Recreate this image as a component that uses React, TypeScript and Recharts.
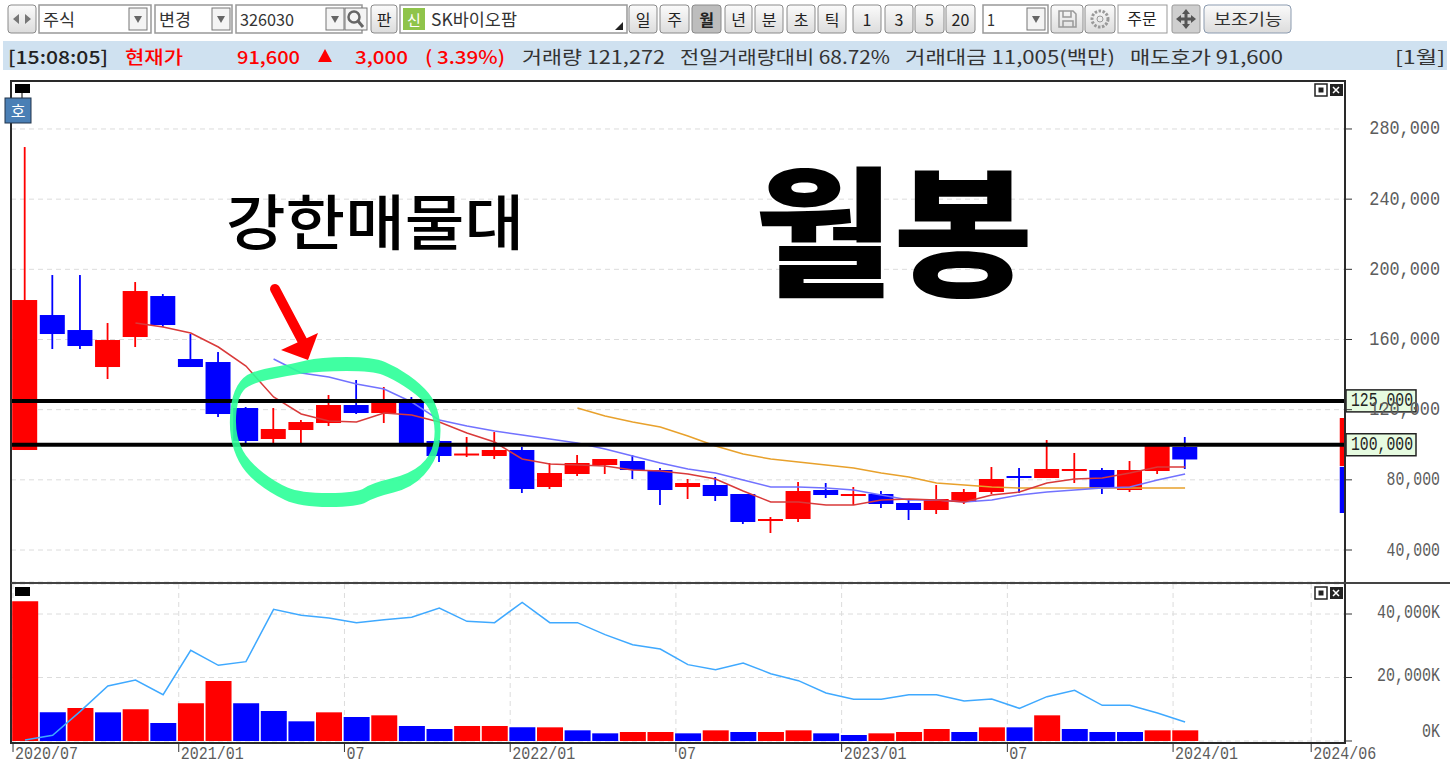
import {
  Bar,
  CartesianGrid,
  Cell,
  ComposedChart,
  Line,
  ReferenceArea,
  ReferenceLine,
  XAxis,
  YAxis,
} from "recharts";

// month index of each bar, 0 = 2020/07
const months = Array.from({ length: 43 }, (_, i) => i);

const open = [
  97000, 173950, 165400, 144310, 161410, 184780, 148870, 147160, 120940, 103270, 108400,
  112390, 122650, 118090, 124360, 102130, 94150, 93580, 97000, 75910, 83320, 88450, 90730,
  85600, 75910, 77050, 71920, 56530, 57670, 74200, 71350, 71920, 66790, 62800, 67360, 73060,
  82180, 81040, 85030, 85600, 74200, 85030, 98710,
];
const close = [
  182500, 163120, 156280, 159700, 187630, 168250, 144310, 117520, 102130, 108970, 112960,
  122650, 118090, 124360, 100420, 93580, 95000, 97000, 74770, 83890, 89590, 91870, 85600,
  74200, 78190, 70780, 55960, 57670, 73630, 71350, 71920, 66220, 62800, 69070, 73060, 80470,
  81040, 86170, 86170, 75340, 85600, 99850, 91600,
];
const high = [
  269710, 196750, 196750, 169390, 192760, 185920, 163120, 152860, 121510, 120940, 114100,
  128350, 136900, 132910, 127210, 102700, 104410, 107260, 98710, 89590, 94150, 91870, 94150,
  86740, 80470, 81610, 71920, 58810, 78760, 78190, 75910, 73630, 68500, 77050, 74770, 87310,
  86740, 102700, 95290, 86740, 90730, 99850, 104410,
];
const low = [
  97000, 154570, 154570, 137470, 155710, 167110, 144310, 115810, 100990, 100990, 100990,
  110680, 117520, 112390, 99850, 90160, 93010, 91870, 72490, 74770, 82180, 83320, 80470,
  65650, 69070, 67930, 54820, 49690, 55960, 69640, 65650, 63940, 57100, 60520, 66220, 71920,
  72490, 81040, 78190, 71920, 73060, 83320, 86170,
];

const maShort = [
  null, null, null, null, 169390, 167110, 163690, 155710, 144880, 127210, 117520, 113530,
  112960, 118090, 116950, 112960, 106690, 101560, 91870, 89020, 88450, 87880, 85600, 85030,
  83320, 80470, 73630, 67360, 67360, 65650, 65650, 68500, 69070, 68500, 67360, 71350, 73060,
  78190, 80470, 81040, 83890, 87310, 87310,
];
const maMid = [
  null, null, null, null, null, null, null, null, null, 148870, 140890, 138610, 134620,
  131770, 124360, 114100, 110680, 107830, 105550, 103270, 100990, 97570, 93580, 89590, 86170,
  83890, 79900, 75910, 75910, 75340, 74200, 71350, 68500, 68500, 67360, 68500, 71350, 73060,
  74200, 75340, 75910, 79900, 83320,
];
const maLong = [
  null, null, null, null, null, null, null, null, null, null, null, null, null, null, null,
  null, null, null, null, null, 120940, 116380, 112960, 110110, 104980, 99280, 94720, 91870,
  90160, 88450, 86740, 83890, 81610, 78190, 77050, 75910, 75340, 75340, 75340, 75340, 75340,
  75340, 75340,
];

const volume = [
  44000, 9030, 10400, 9030, 9975, 5670, 11865, 18900, 11865, 9450, 6200, 9030, 7560, 8085,
  4725, 3780, 4725, 4725, 4305, 4305, 3360, 2415, 2835, 2835, 2415, 3360, 2835, 2835, 3360,
  2415, 1890, 2415, 2835, 3780, 2835, 4305, 4305, 8085, 3780, 2835, 2835, 3360, 3360,
];
const volumeUp = [
  1, 0, 1, 0, 1, 0, 1, 1, 0, 0, 0, 1, 0, 1, 0, 0, 1, 1, 0, 1, 0, 0, 1, 1, 0, 1, 0, 1, 1, 0,
  0, 1, 1, 1, 0, 1, 0, 1, 0, 0, 0, 1, 1,
];
const volumeMa = [
  315, 1785, 9345, 17325, 19215, 14595, 28560, 23835, 24990, 41475, 39585, 38745, 37275,
  38220, 38955, 41895, 37695, 37275, 43680, 37275, 37275, 33495, 30345, 28980, 24045, 22470,
  24570, 21210, 19005, 15120, 13125, 13125, 14595, 14595, 12600, 13230, 10290, 13965, 15960,
  11235, 11235, 8820, 5985,
];

const priceTicks = [40000, 80000, 120000, 160000, 200000, 240000, 280000];
const volumeTicks = [0, 20000, 40000];
const tickMonths = [0, 6, 12, 18, 24, 30, 36, 42, 47];
const tickLabels = ["2020/07", "2021/01", "07", "2022/01", "07", "2023/01", "07", "2024/01", "2024/06"];

const priceRows = months.map((m, i) => ({
  m,
  range: [low[i], high[i]],
  open: open[i],
  close: close[i],
  high: high[i],
  low: low[i],
  maShort: maShort[i],
  maMid: maMid[i],
  maLong: maLong[i],
}));
const volumeRows = months.map((m, i) => ({ m, volume: volume[i], volumeMa: volumeMa[i] }));

const RED = "#ff0000";
const BLUE = "#0000ff";
const MONO = "'Liberation Mono', monospace";
const KR = "'Noto Sans CJK KR', sans-serif";
const xDomain = [-0.507, 47.79];
const xTicks = tickMonths.map((m) => m - 0.434);

// hand-drawn marker ring on the picture, outer and inner edge
const ringOuter = [
  [229, 425], [232, 395], [243, 376], [262, 369], [292, 364], [320, 357], [373, 357], [397, 367],
  [421, 384], [436, 402], [442, 430], [436, 462], [412, 488], [375, 497], [358, 507], [300, 507],
  [270, 493], [245, 473], [233, 450],
];
const ringInner = [
  [235, 425], [238, 397], [249, 384], [285, 376], [320, 371], [373, 371], [393, 379],
  [416, 394], [430, 408], [436, 430], [431, 456], [410, 474], [372, 483], [357, 493], [300, 493],
  [275, 482], [252, 464], [240, 447],
];

function smoothLoop(pts: number[][]) {
  const mid = (a: number[], b: number[]) => `${(a[0] + b[0]) / 2} ${(a[1] + b[1]) / 2}`;
  let d = `M${mid(pts[pts.length - 1], pts[0])}`;
  pts.forEach((p, i) => {
    d += ` Q${p[0]} ${p[1]} ${mid(p, pts[(i + 1) % pts.length])}`;
  });
  return d + " Z";
}

function Candle(props: any) {
  const { x, y, width, height, payload } = props;
  const { open: o, close: c, high: h, low: l } = payload;
  const k = height / Math.max(h - l, 1);
  const yOf = (v: number) => y + (h - v) * k;
  const color = c >= o ? RED : BLUE;
  const top = yOf(Math.max(o, c));
  const bottom = yOf(Math.min(o, c));
  const mid = x + width / 2;
  return (
    <g>
      <rect x={mid - 0.9} y={y} width={1.8} height={height} fill={color} />
      <rect x={mid - 12.5} y={top} width={25} height={Math.max(bottom - top, 2)} fill={color} />
    </g>
  );
}

function AxisNumber({ x, y, text, perChar = 9 }: { x: number; y: number; text: string; perChar?: number }) {
  return (
    <text
      x={x}
      y={y}
      textAnchor="end"
      fontFamily={MONO}
      fontSize={20}
      fill="#5c5c5c"
      textLength={text.length * perChar}
      lengthAdjust="spacingAndGlyphs"
      dominantBaseline="central"
    >
      {text}
    </text>
  );
}

function PriceTick({ y, payload }: any) {
  const text = payload.value.toLocaleString("en-US");
  return <AxisNumber x={1440} y={y} text={text} perChar={text.length > 6 ? 10.1 : 8.9} />;
}

function VolumeTick({ y, payload }: any) {
  const v = payload.value;
  const text = v.toLocaleString("en-US") + "K";
  return <AxisNumber x={1440} y={v === 0 ? y - 9 : y - 2} text={text} />;
}

function MonthTick({ x, index }: any) {
  const text = tickLabels[index];
  return (
    <text
      x={x + 2}
      y={171}
      fontFamily={MONO}
      fontSize={19}
      fill="#5c5c5c"
      textLength={text.length * 9}
      lengthAdjust="spacingAndGlyphs"
      dominantBaseline="central"
    >
      {text}
    </text>
  );
}

function PriceTag({ viewBox, text }: any) {
  const left = viewBox.x + viewBox.width + 1;
  return (
    <g>
      <rect x={left} y={viewBox.y - 11} width={70} height={22} fill="#e6fbe0" stroke="#222" strokeWidth={1.5} />
      <text
        x={left + 67}
        y={viewBox.y}
        textAnchor="end"
        fontFamily={MONO}
        fontSize={20}
        fill="#222"
        textLength={62}
        lengthAdjust="spacingAndGlyphs"
        dominantBaseline="central"
      >
        {text}
      </text>
    </g>
  );
}

function Txt({ x, y, w, size = 16, color = "#333", weight = 400, children }: any) {
  return (
    <text
      x={x}
      y={y}
      fontFamily={KR}
      fontSize={size}
      fontWeight={weight}
      fill={color}
      textLength={w}
      lengthAdjust="spacingAndGlyphs"
      dominantBaseline="central"
    >
      {children}
    </text>
  );
}

function Btn({ x, w, label, dark }: { x: number; w: number; label: string; dark?: boolean }) {
  return (
    <g>
      <rect x={x} y={5} width={w} height={28} rx={3} fill={dark ? "#bdbdbd" : "url(#btn)"} stroke="#8a8a8a" />
      <text
        x={x + w / 2}
        y={19}
        textAnchor="middle"
        dominantBaseline="central"
        fontFamily={KR}
        fontSize={16}
        fontWeight={dark ? 700 : 400}
        fill="#222"
      >
        {label}
      </text>
    </g>
  );
}

function Combo({ x, w, label, textW, arrowX }: { x: number; w: number; label: string; textW: number; arrowX?: number }) {
  return (
    <g>
      <rect x={x} y={5} width={w} height={28} fill="#fff" stroke="#999" strokeWidth={1.5} />
      <Txt x={x + 4} y={18} w={textW} size={17}>
        {label}
      </Txt>
      {arrowX !== undefined && (
        <g>
          <rect x={arrowX} y={8} width={18} height={22} fill="#f4f4f4" stroke="#777" />
          <path d={`M${arrowX + 5} 16 h8 l-4 7 z`} fill="#666" />
        </g>
      )}
    </g>
  );
}

function PanelIcons({ y }: { y: number }) {
  return (
    <g>
      <rect x={1315} y={y} width={12} height={12} fill="#fff" stroke="#222" strokeWidth={1.5} />
      <rect x={1318.5} y={y + 3.5} width={5} height={5} fill="#222" />
      <rect x={1330} y={y} width={13} height={12} fill="#222" />
      <path d={`M${1333} ${y + 3} l6 6 M${1339} ${y + 3} l-6 6`} stroke="#fff" strokeWidth={1.5} />
    </g>
  );
}

function Backdrop() {
  return (
    <svg width={1450} height={765} style={{ position: "absolute", left: 0, top: 0 }}>
      <defs>
        <linearGradient id="btn" x1="0" y1="0" x2="0" y2="1">
          <stop offset="0" stopColor="#fbfbfb" />
          <stop offset="1" stopColor="#dcdcdc" />
        </linearGradient>
      </defs>
      <Btn x={8} w={28} label="" />
      <path d="M19 14 l-6 5 l6 5 z M25 14 l6 5 l-6 5 z" fill="#777" />
      <Combo x={39} w={112} label="주식" textW={32} arrowX={129} />
      <Combo x={155} w={77} label="변경" textW={32} arrowX={212} />
      <Combo x={236} w={126} label="326030" textW={54} arrowX={326} />
      <rect x={345} y={8} width={22} height={22} fill="#f4f4f4" stroke="#777" />
      <circle cx={354} cy={17} r={5.5} fill="none" stroke="#666" strokeWidth={2.5} />
      <path d="M358 21 l5 6" stroke="#666" strokeWidth={3} />
      <Btn x={371} w={26} label="판" />
      <rect x={400} y={5} width={227} height={28} fill="#fff" stroke="#999" strokeWidth={1.5} />
      <rect x={403} y={8} width={22} height={22} fill="#8fc44a" />
      <text x={414} y={19} textAnchor="middle" dominantBaseline="central" fontFamily={KR} fontSize={15} fill="#fff">
        신
      </text>
      <Txt x={431} y={18} w={86} size={17}>
        SK바이오팜
      </Txt>
      <path d="M623 22 v8 h-8 z" fill="#222" />
      <Btn x={629} w={28} label="일" />
      <Btn x={660} w={29} label="주" />
      <Btn x={692} w={29} label="월" dark />
      <Btn x={725} w={27} label="년" />
      <Btn x={755} w={28} label="분" />
      <Btn x={787} w={28} label="초" />
      <Btn x={818} w={28} label="틱" />
      <Btn x={853} w={28} label="1" />
      <Btn x={885} w={28} label="3" />
      <Btn x={915} w={29} label="5" />
      <Btn x={946} w={29} label="20" />
      <Combo x={983} w={65} label="1" textW={8} arrowX={1027} />
      <Btn x={1051} w={32} label="" />
      <path d="M1059 11 h14 l3 3 v13 h-17 z M1063 11 v6 h8 v-6 M1063 27 v-6 h10 v6" fill="none" stroke="#999" strokeWidth={1.5} />
      <Btn x={1085} w={30} label="" />
      <circle cx={1100} cy={19} r={8} fill="none" stroke="#999" strokeWidth={3} strokeDasharray="2.5 1.5" />
      <circle cx={1100} cy={19} r={3} fill="none" stroke="#999" />
      <rect x={1118} y={5} width={49} height={28} fill="#fff" stroke="#999" />
      <text x={1142} y={18} textAnchor="middle" dominantBaseline="central" fontFamily={KR} fontSize={16} fill="#222">
        주문
      </text>
      <rect x={1172} y={5} width={28} height={28} rx={2} fill="#cfcfcf" stroke="#999" />
      <path d="M1186 9 l4 5 h-2.5 v3.5 h3.5 v-2.5 l5 4 l-5 4 v-2.5 h-3.5 v3.5 h2.5 l-4 5 l-4 -5 h2.5 v-3.5 h-3.5 v2.5 l-5 -4 l5 -4 v2.5 h3.5 v-3.5 h-2.5 z" fill="#555" />
      <rect x={1204} y={5} width={87} height={28} rx={4} fill="url(#btn)" stroke="#8b9bb0" />
      <Txt x={1214} y={18} w={68}>
        보조기능
      </Txt>

      <rect x={3} y={41} width={1444} height={29} fill="#cfe1f0" />
      <Txt x={8} y={56} w={100} size={18} color="#222" weight={500}>
        [15:08:05]
      </Txt>
      <Txt x={125} y={56} w={58} size={18} color={RED} weight={500}>
        현재가
      </Txt>
      <Txt x={237} y={56} w={63} size={18} color={RED} weight={500}>
        91,600
      </Txt>
      <path d="M325 49 l7 13 h-14 z" fill={RED} />
      <Txt x={355} y={56} w={53} size={18} color={RED} weight={500}>
        3,000
      </Txt>
      <Txt x={425} y={56} w={80} size={18} color={RED} weight={500}>
        ( 3.39%)
      </Txt>
      <Txt x={522} y={56} w={143} size={18}>
        거래량 121,272
      </Txt>
      <Txt x={680} y={56} w={210} size={18}>
        전일거래량대비 68.72%
      </Txt>
      <Txt x={905} y={56} w={210} size={18}>
        거래대금 11,005(백만)
      </Txt>
      <Txt x={1130} y={56} w={153} size={18}>
        매도호가 91,600
      </Txt>
      <Txt x={1395} y={56} w={50} size={18}>
        [1월]
      </Txt>

      <rect x={11} y={81} width={1334} height={662} fill="#fff" />
    </svg>
  );
}

function Annotations() {
  return (
    <svg width={1450} height={765} style={{ position: "absolute", left: 0, top: 0, pointerEvents: "none" }}>
      <rect x={11} y={81} width={1334} height={662} fill="none" stroke="#2a2a2a" strokeWidth={2} />
      <line x1={11} y1={583} x2={1450} y2={583} stroke="#444" strokeWidth={2} />
      <rect x={15} y={84} width={15} height={9} fill="#000" />
      <rect x={15} y={587} width={15} height={9} fill="#000" />
      <line x1={22} y1={93} x2={22} y2={98} stroke="#000" />
      <rect x={5} y={98} width={26} height={25} fill="#4a7fb5" stroke="#22344a" />
      <text x={18} y={110} textAnchor="middle" dominantBaseline="central" fontFamily={KR} fontSize={16} fill="#fff">
        호
      </text>
      <PanelIcons y={84} />
      <PanelIcons y={587} />

      <path
        fillRule="evenodd"
        fill="#2bff98"
        fillOpacity={0.9}
        d={`${smoothLoop(ringOuter)} ${smoothLoop(ringInner)}`}
      />
      <line x1={275} y1={289} x2={303} y2={342} stroke={RED} strokeWidth={10} strokeLinecap="round" />
      <path d="M318 333 L281 350 L308 360 Z" fill={RED} />

      <text x={226} y={218} dominantBaseline="central" fontFamily={KR} fontSize={60} fontWeight={500} fill="#000" textLength={298} lengthAdjust="spacingAndGlyphs">
        강한매물대
      </text>
      <text x={754} y={224} dominantBaseline="central" fontFamily={KR} fontSize={140} fontWeight={900} fill="#000" textLength={279} lengthAdjust="spacingAndGlyphs">
        월봉
      </text>
    </svg>
  );
}

export default function App() {
  return (
    <div style={{ position: "absolute", left: 0, top: 0, width: 1450, height: 765, background: "#fff", overflow: "hidden" }}>
      <Backdrop />
      <div style={{ position: "absolute", left: 0, top: 0 }}>
        <ComposedChart width={1450} height={583} data={priceRows} margin={{ top: 81, right: 0, bottom: 1, left: 11 }}>
          <CartesianGrid stroke="#dcdcdc" strokeDasharray="5 4" />
          <XAxis
            dataKey="m"
            type="number"
            domain={xDomain}
            allowDataOverflow
            ticks={xTicks}
            interval={0}
            height={0}
            tick={false}
            tickLine={false}
            axisLine={false}
          />
          <YAxis
            orientation="right"
            width={105}
            domain={[21760, 307350]}
            allowDataOverflow
            ticks={priceTicks}
            interval={0}
            axisLine={false}
            tickLine={{ stroke: "#333" }}
            tickSize={7}
            tick={<PriceTick />}
          />
          <Bar dataKey="range" barSize={25} shape={Candle} isAnimationActive={false} />
          <Line dataKey="maLong" stroke="#e8a12c" strokeWidth={1.5} dot={false} isAnimationActive={false} />
          <Line dataKey="maMid" stroke="#7272ff" strokeWidth={1.5} dot={false} isAnimationActive={false} />
          <Line dataKey="maShort" stroke="#d93a3a" strokeWidth={1.5} dot={false} isAnimationActive={false} />
          <ReferenceArea x1={47.6} x2={47.79} y1={87880} y2={115240} fill={RED} fillOpacity={1} stroke="none" />
          <ReferenceArea x1={47.6} x2={47.79} y1={61090} y2={87400} fill={BLUE} fillOpacity={1} stroke="none" />
          <ReferenceLine y={125000} stroke="#000" strokeWidth={4} label={<PriceTag text="125,000" />} />
          <ReferenceLine y={100000} stroke="#000" strokeWidth={4} label={<PriceTag text="100,000" />} />
        </ComposedChart>
      </div>
      <div style={{ position: "absolute", left: 0, top: 583 }}>
        <ComposedChart width={1450} height={182} data={volumeRows} margin={{ top: 1, right: 0, bottom: 0, left: 11 }}>
          <CartesianGrid stroke="#dcdcdc" strokeDasharray="5 4" />
          <XAxis
            dataKey="m"
            type="number"
            domain={xDomain}
            allowDataOverflow
            ticks={xTicks}
            interval={0}
            height={22}
            tickSize={9}
            axisLine={false}
            tickLine={{ stroke: "#333" }}
            tick={<MonthTick />}
          />
          <YAxis
            orientation="right"
            width={105}
            domain={[-630, 49450]}
            allowDataOverflow
            ticks={volumeTicks}
            interval={0}
            axisLine={false}
            tickLine={{ stroke: "#333" }}
            tickSize={7}
            tick={<VolumeTick />}
          />
          <Bar dataKey="volume" barSize={26} isAnimationActive={false}>
            {volumeRows.map((r, i) => (
              <Cell key={r.m} fill={volumeUp[i] ? RED : BLUE} />
            ))}
          </Bar>
          <Line dataKey="volumeMa" stroke="#3fa9ff" strokeWidth={1.5} dot={false} isAnimationActive={false} />
        </ComposedChart>
      </div>
      <Annotations />
    </div>
  );
}
